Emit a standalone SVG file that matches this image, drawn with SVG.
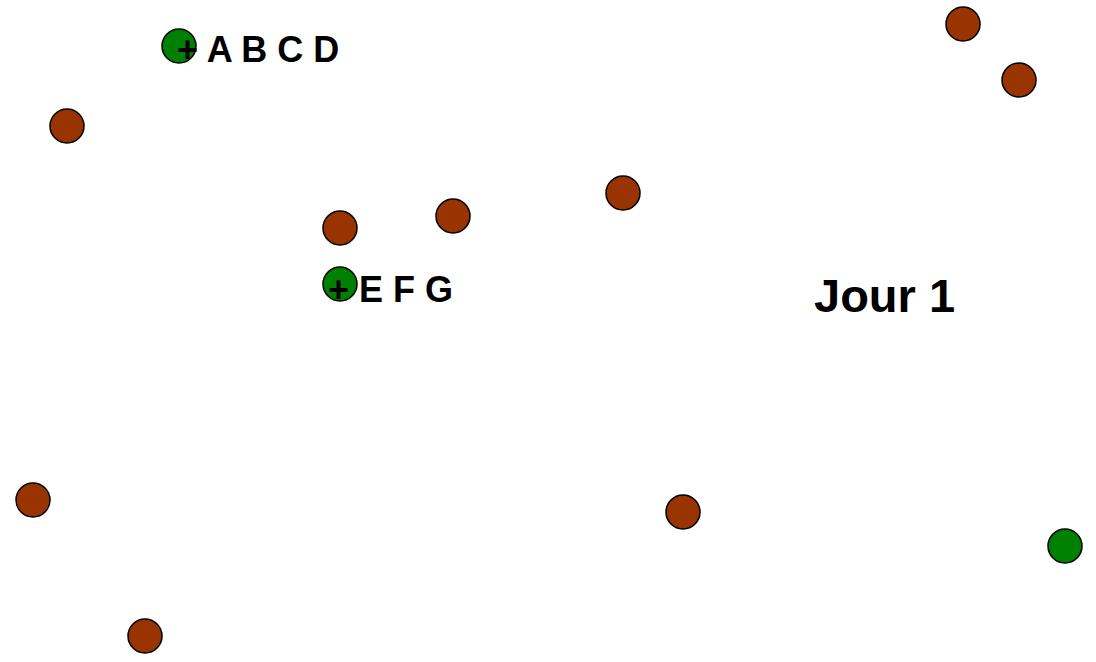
<svg xmlns="http://www.w3.org/2000/svg" width="1096" height="662" viewBox="0 0 1096 662">
<style>
.r{fill:#993300;stroke:#000;stroke-width:1.5}
.g{fill:#008000;stroke:#000;stroke-width:1.5}
.t{font-family:"Liberation Sans",Arial,sans-serif;font-weight:bold;fill:#000}
</style>
<rect width="1096" height="662" fill="#fff"/>
<g id="connectors"></g>
<g id="n1"><circle class="g" cx="179" cy="46" r="17"/><text class="t" x="177" y="62" font-size="36">+ A B C D</text></g>
<g id="n2"><circle class="r" cx="67" cy="126" r="17"/></g>
<g id="n3"><circle class="r" cx="963" cy="24" r="17"/></g>
<g id="n4"><circle class="r" cx="1019" cy="80" r="17"/></g>
<g id="n5"><circle class="r" cx="340" cy="228" r="17"/></g>
<g id="n6"><circle class="r" cx="453" cy="216" r="17"/></g>
<g id="n7"><circle class="r" cx="623" cy="193" r="17"/></g>
<g id="n8"><circle class="g" cx="340" cy="284" r="17"/><text class="t" x="328" y="302" font-size="36">+ E F G</text></g>
<g id="n9"><circle class="r" cx="33" cy="500" r="17"/></g>
<g id="n10"><circle class="r" cx="683" cy="512" r="17"/></g>
<g id="n11"><circle class="g" cx="1065" cy="546" r="17"/></g>
<g id="n12"><circle class="r" cx="145" cy="636" r="17"/></g>
<g id="title"><text class="t" x="814" y="312" font-size="47">Jour 1</text></g>
</svg>
